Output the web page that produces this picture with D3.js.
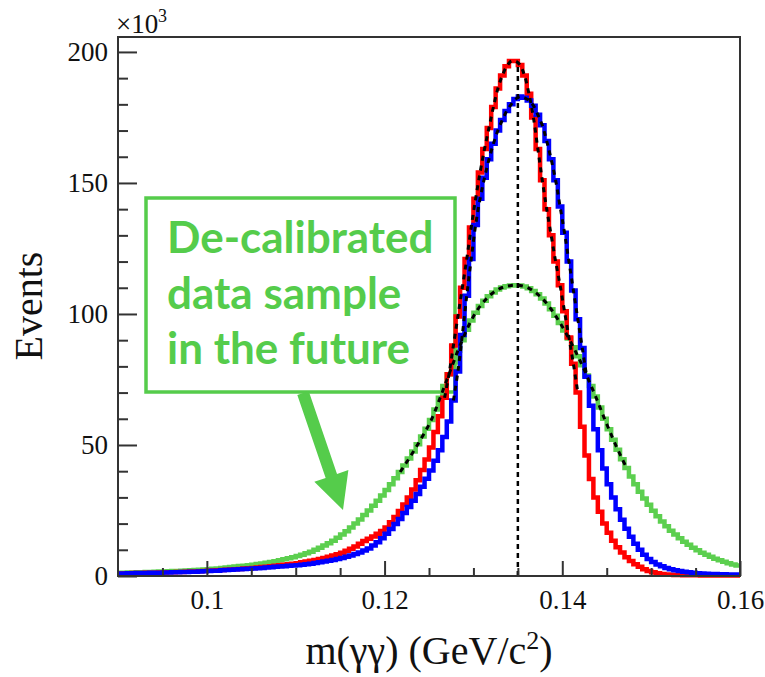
<!DOCTYPE html>
<html>
<head>
<meta charset="utf-8">
<script src="https://d3js.org/d3.v7.min.js"></script>
<style>
  body { margin: 0; background: #fff; }
  svg { display: block; }
  .axis text { font-family: "Liberation Serif", "Times New Roman", serif; font-size: 27px; fill: #111; }
  .axis path, .axis line { stroke: #333; stroke-width: 2; }
</style>
</head>
<body>
<div id="chart"></div>
<script>
// histogram binning: 140 bins of 0.0005 GeV from 0.09
var binLow = 0.09,
    binWidth = 0.0005;

// events per bin, x10^3
var redCounts = [
  1.0,1.0,1.05,1.1,1.1,1.15,1.2,1.2,1.25,1.3,
  1.35,1.4,1.45,1.5,1.55,1.6,1.7,1.75,1.8,1.9,
  2.0,2.1,2.2,2.3,2.4,2.5,2.6,2.7,2.85,3.0,
  3.1,3.25,3.4,3.55,3.7,3.9,4.1,4.3,4.5,4.7,
  4.9,5.2,5.5,5.8,6.1,6.5,6.9,7.3,7.8,8.3,
  8.9,9.6,10.4,11.3,12.3,13.4,14.2,15.1,16.1,17.2,
  18.5,20.5,22.5,24.8,27.3,30,33,36.5,40.5,44.5,
  49,55,61,68,77,88,99,110,121,133,
  144,154,163,171,179,186,191,194.5,196.5,196.5,
  195,191,184,175,163,151,140,130,120,111,
  101,91,81,70,57,46,37,30,24.5,20,
  16.5,13.5,11,9,7.2,5.7,4.5,3.5,2.6,1.9,
  1.4,1.05,0.8,0.6,0.5,0.4,0.35,0.3,0.3,0.25,
  0.25,0.2,0.2,0.2,0.2,0.15,0.15,0.15,0.15,0.15
];
var blueCounts = [
  1.0,1.0,1.05,1.05,1.1,1.1,1.15,1.2,1.2,1.25,
  1.3,1.35,1.4,1.45,1.5,1.55,1.6,1.65,1.7,1.8,
  1.9,2.0,2.05,2.15,2.25,2.35,2.45,2.55,2.7,2.8,
  2.9,3.0,3.1,3.25,3.35,3.5,3.6,3.75,3.9,4.0,
  4.1,4.3,4.5,4.7,4.95,5.2,5.5,5.8,6.1,6.5,
  6.9,7.3,7.8,8.4,9.0,9.7,10.5,11.6,12.9,14.4,
  16.1,17.9,19.8,21.8,24.0,26.3,28.7,31.3,34.1,37.1,
  40.3,44,48,53,59,67,78,92,107,121,
  134,144,152,159,165,170,174,177.5,180,182,
  183,182.5,181.5,179.5,176,172,166,159,151,141,
  131,120,109,98,87,76,65,56,48,41,
  35,30,25.5,21.5,18,15,12.3,10,8.1,6.5,
  5.3,4.4,3.7,3.1,2.6,2.2,1.9,1.6,1.4,1.2,
  1.05,0.95,0.85,0.8,0.75,0.7,0.65,0.6,0.6,0.55
];
var greenCounts = [
  1.2,1.25,1.3,1.35,1.4,1.45,1.5,1.55,1.6,1.7,
  1.75,1.8,1.9,1.95,2.0,2.1,2.2,2.3,2.4,2.5,
  2.6,2.75,2.9,3.05,3.2,3.4,3.6,3.8,3.95,4.1,
  4.3,4.55,4.8,5.05,5.35,5.65,6.0,6.4,6.8,7.2,
  7.6,8.1,8.7,9.3,10.0,10.8,11.6,12.5,13.5,14.6,
  15.8,17.1,18.5,20.0,21.6,23.3,25.0,26.8,28.7,30.7,
  32.8,35.0,37.3,39.7,42.2,44.8,47.5,50.3,53.2,56.2,
  59.5,63.5,68,72.5,77,81.5,86,90,94,97.5,
  100.5,103,105,106.8,108.2,109.3,110.1,110.6,110.9,111,
  110.9,110.5,109.8,108.8,107.5,105.9,104,101.8,99.3,96.6,
  93.7,90.6,87.3,83.9,80.4,76.5,72.5,68.5,64.3,60,
  56,52,48.2,44.6,41.2,38,35,32.2,29.6,27.2,
  24.9,22.8,20.8,19,17.3,15.8,14.4,13.1,11.9,10.8,
  9.8,8.9,8.1,7.3,6.6,6.0,5.4,4.9,4.4,4.0
];

// first and last bin covered by each fit curve
var redFitBins = [73, 103];
var blueFitBins = [75, 105];
var greenFitBins = [63, 114];

var xMajorTicks = [0.1, 0.12, 0.14, 0.16];
var xMinorTicks = [0.095, 0.105, 0.11, 0.115, 0.125, 0.13, 0.135, 0.145, 0.15, 0.155];
var yMajorTicks = [0, 50, 100, 150, 200];
var yMinorTicks = [10, 20, 30, 40, 60, 70, 80, 90, 110, 120, 130, 140, 160, 170, 180, 190];
var peakMass = 0.135;
var peakHeight = 195;
var noteLines = ["De-calibrated", "data sample", "in the future"];

var width = 765, height = 677;
var green = "#55cc4b";

var svg = d3.select("#chart").append("svg")
    .attr("width", width)
    .attr("height", height);

var x = d3.scaleLinear().domain([0.09, 0.16]).range([118, 740]);
var y = d3.scaleLinear().domain([0, 205.7]).range([576, 37]);

// annotation box goes under the curves
svg.append("rect")
    .attr("x", 146).attr("y", 198)
    .attr("width", 309).attr("height", 194)
    .attr("fill", "none")
    .attr("stroke", green)
    .attr("stroke-width", 3.5);

svg.append("g").selectAll("text")
    .data(noteLines)
  .enter().append("text")
    .attr("x", 167)
    .attr("y", function(d, i) { return 253 + i * 55.5; })
    .style("font-family", "Lato, 'Open Sans', sans-serif")
    .style("font-weight", "bold")
    .style("font-size", "44px")
    .attr("fill", green)
    .text(function(d) { return d; });

// arrow from the box down to the green tail
var tail = [303, 393], tip = [343, 510];
var dx = tip[0] - tail[0], dy = tip[1] - tail[1], len = Math.sqrt(dx*dx + dy*dy);
var ux = dx / len, uy = dy / len, px = uy, py = -ux;
var headLen = 36, headW = 18, shaftW = 6;
var bx = tip[0] - ux * headLen, by = tip[1] - uy * headLen;
var arrowPts = [
  [tail[0] + px*shaftW, tail[1] + py*shaftW],
  [bx + px*shaftW, by + py*shaftW],
  [bx + px*headW, by + py*headW],
  tip,
  [bx - px*headW, by - py*headW],
  [bx - px*shaftW, by - py*shaftW],
  [tail[0] - px*shaftW, tail[1] - py*shaftW]
];
svg.append("path")
    .attr("d", "M" + arrowPts.join("L") + "Z")
    .attr("fill", green);

// histograms
var stepLine = d3.line()
    .x(function(d) { return x(d[0]); })
    .y(function(d) { return y(d[1]); });

function stepPoints(counts) {
  var pts = [];
  counts.forEach(function(c, i) {
    var lo = binLow + i * binWidth;
    pts.push([lo, c], [lo + binWidth, c]);
  });
  return pts;
}

var hists = [
  {counts: greenCounts, color: "#5ccf4f"},
  {counts: redCounts, color: "#ff0000"},
  {counts: blueCounts, color: "#0000ff"}
];
hists.forEach(function(h) {
  svg.append("path")
      .attr("d", stepLine(stepPoints(h.counts)))
      .attr("fill", "none")
      .attr("stroke", h.color)
      .attr("stroke-width", 4.5)
      .attr("stroke-linejoin", "miter");
});

// fit curves
var fitLine = d3.line()
    .x(function(d) { return x(d[0]); })
    .y(function(d) { return y(d[1]); })
    .curve(d3.curveCatmullRom);

function fitPoints(counts, range) {
  var pts = [];
  for (var i = range[0]; i <= range[1]; i++) {
    pts.push([binLow + (i + 0.5) * binWidth, counts[i]]);
  }
  return pts;
}

[[greenCounts, greenFitBins], [redCounts, redFitBins], [blueCounts, blueFitBins]].forEach(function(f) {
  svg.append("path")
      .attr("d", fitLine(fitPoints(f[0], f[1])))
      .attr("fill", "none")
      .attr("stroke", "#000")
      .attr("stroke-width", 3)
      .attr("stroke-dasharray", "5,5");
});

svg.append("line")
    .attr("x1", x(peakMass)).attr("x2", x(peakMass))
    .attr("y1", y(0)).attr("y2", y(peakHeight))
    .attr("stroke", "#000")
    .attr("stroke-width", 2.5)
    .attr("stroke-dasharray", "5,4");

// frame
svg.append("rect")
    .attr("x", 118).attr("y", 37)
    .attr("width", 622).attr("height", 539)
    .attr("fill", "none")
    .attr("stroke", "#333")
    .attr("stroke-width", 2);

// axes, ticks pointing inward
svg.append("g").attr("class", "axis")
    .attr("transform", "translate(0,576)")
    .call(d3.axisBottom(x).tickValues(xMinorTicks).tickSizeInner(-8).tickSizeOuter(0).tickFormat(""));
svg.append("g").attr("class", "axis")
    .attr("transform", "translate(0,576)")
    .call(d3.axisBottom(x).tickValues(xMajorTicks).tickSizeInner(-15).tickSizeOuter(0)
      .tickPadding(14).tickFormat(function(d) { return String(d); }));

svg.append("g").attr("class", "axis")
    .attr("transform", "translate(118,0)")
    .call(d3.axisLeft(y).tickValues(yMinorTicks).tickSizeInner(-10).tickSizeOuter(0).tickFormat(""));
svg.append("g").attr("class", "axis")
    .attr("transform", "translate(118,0)")
    .call(d3.axisLeft(y).tickValues(yMajorTicks).tickSizeInner(-19).tickSizeOuter(0)
      .tickPadding(10).tickFormat(function(d) { return String(d); }));

svg.selectAll(".axis .domain").remove();

// multiplier and axis titles
var serif = "'Liberation Serif', 'Times New Roman', serif";
svg.append("text")
    .attr("x", 116).attr("y", 33)
    .style("font-family", serif).style("font-size", "27px").attr("fill", "#111")
    .text("×10");
svg.append("text")
    .attr("x", 158).attr("y", 22)
    .style("font-family", serif).style("font-size", "18px").attr("fill", "#111")
    .text("3");

var xTitle = svg.append("text")
    .attr("x", 429).attr("y", 664)
    .attr("text-anchor", "middle")
    .style("font-family", serif).style("font-size", "40px").attr("fill", "#111");
xTitle.append("tspan").text("m(γγ) (GeV/c");
xTitle.append("tspan").attr("dy", -15).style("font-size", "26px").text("2");
xTitle.append("tspan").attr("dy", 15).text(")");

svg.append("text")
    .attr("transform", "translate(42,306) rotate(-90)")
    .attr("text-anchor", "middle")
    .style("font-family", serif).style("font-size", "40px").attr("fill", "#111")
    .text("Events");
</script>
</body>
</html>
